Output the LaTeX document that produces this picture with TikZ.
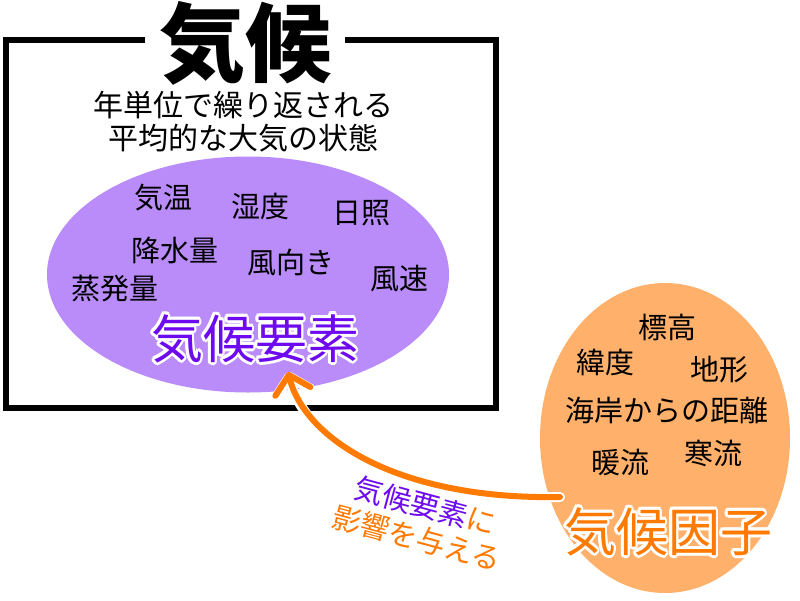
\documentclass[tikz,border=0pt]{standalone}
\usepackage{fontspec}
\setmainfont{Noto Sans CJK JP}
\usepackage[copies]{contour}
\contourlength{2.8pt}
\usetikzlibrary{shapes.geometric,arrows.meta}
\definecolor{purpleE}{RGB}{185,140,250}
\definecolor{purpleT}{RGB}{110,10,240}
\definecolor{orangeE}{RGB}{255,176,106}
\definecolor{orangeA}{RGB}{255,122,0}
\begin{document}
\begin{tikzpicture}[x=1pt,y=-1pt,
  lbl/.style={font=\fontsize{29}{31}\selectfont, inner sep=0pt, text=black},
  sub/.style={font=\fontsize{30}{33}\selectfont, inner sep=0pt, align=center, text=black},
  big/.style={font=\fontsize{52}{54}\selectfont, inner sep=0pt},
  blob/.style={ellipse, draw=none, inner sep=0pt},
  arrw/.style={line cap=round, -{Straight Barb[length=17pt 0 0, width=36pt 0 0, round]}},
]
\useasboundingbox (0,0) rectangle (800,600);
\fill[white] (0,0) rectangle (800,600);
% frame
\draw[line width=6pt] (145,40) -- (6,40) -- (6,408) -- (496,408) -- (496,40) -- (345,40);
\node[font=\fontsize{86}{90}\selectfont\bfseries, inner sep=0pt] (title) at (245,43) {気候};
\node[sub] (desc) at (243,122) {年単位で繰り返される\\平均的な大気の状態};
% ellipses
\node[blob, fill=purpleE, minimum width=402pt, minimum height=236pt] (elem) at (248,274.5) {};
\node[blob, fill=orangeE, minimum width=250pt, minimum height=310pt] (fact) at (665,438) {};
% element labels
\node[lbl] (e1) at (163,198) {気温};
\node[lbl] (e2) at (260,207) {湿度};
\node[lbl] (e3) at (361,213) {日照};
\node[lbl] (e4) at (175,250) {降水量};
\node[lbl] (e5) at (291,262) {風向き};
\node[lbl] (e6) at (399,279) {風速};
\node[lbl] (e7) at (115,289) {蒸発量};
\node[big, text=purpleT] (elemT) at (255,340) {\contour{white}{気候要素}};
% factor labels
\node[lbl] (f1) at (667,327) {標高};
\node[lbl] (f2) at (605,362) {緯度};
\node[lbl] (f3) at (719,370) {地形};
\node[lbl] (f4) at (667,410) {海岸からの距離};
\node[lbl] (f5) at (620,463) {暖流};
\node[lbl] (f6) at (713,453) {寒流};
\node[big, text=orangeA] (factT) at (668,533) {\contour{white}{気候因子}};
% arrow
\coordinate (aS) at (560,497);
\coordinate (aE) at (288,372);
\draw[arrw, white, line width=10pt] (aS) .. controls (400,500) and (305,440) .. (aE);
\draw[arrw, orangeA, line width=6pt] (aS) .. controls (400,500) and (305,440) .. (aE);
\node[rotate=-15, align=center, inner sep=0pt, font=\fontsize{29}{33}\selectfont] (infl) at (421,522)
  {\textcolor{purpleT}{気候要素}\textcolor{orangeA}{に}\\\textcolor{orangeA}{影響を与える}};
\end{tikzpicture}
\end{document}
